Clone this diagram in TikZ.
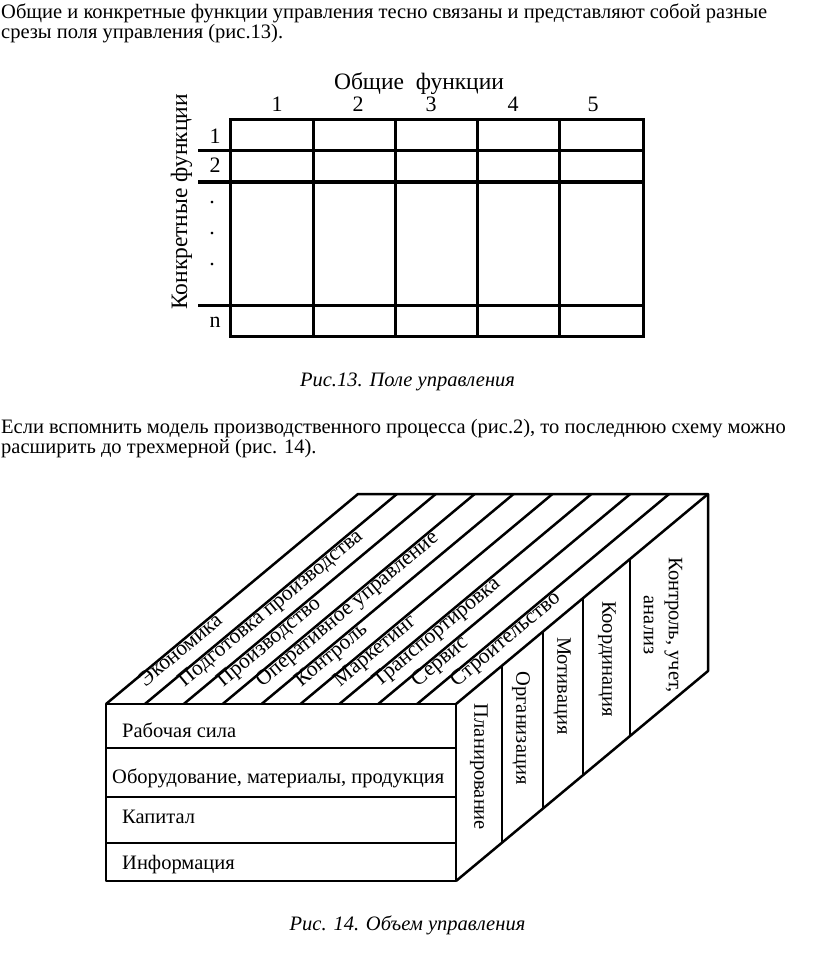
\documentclass[tikz,border=0pt]{standalone}
\usepackage{fontspec}
\setmainfont{Liberation Serif}
\usepackage{tikz}
\usetikzlibrary{calc}
\tikzstyle{bodytext} = [inner sep=0pt, font=\fontsize{20.5}{21}\selectfont]
\tikzstyle{captext} = [inner sep=0pt, font=\fontsize{20.5}{21}\selectfont\itshape]
\tikzstyle{figtext} = [inner sep=0pt, font=\fontsize{22}{22}\selectfont]
\tikzstyle{headtext} = [inner sep=0pt, font=\fontsize{23.5}{24}\selectfont]
\tikzstyle{boxtext} = [inner sep=0pt, font=\fontsize{20.5}{25}\selectfont]
\tikzstyle{striptext} = [inner sep=0pt, font=\fontsize{21.5}{22}\selectfont]
\tikzstyle{fieldline} = [line width=3pt]
\tikzstyle{boxline} = [line width=2.5pt, line join=round]

\begin{document}
\begin{tikzpicture}[x=1pt, y=-1pt]
    \useasboundingbox (0,0) rectangle (816,960);
    % text before the field
    \node [bodytext, anchor=base west] (para1a) at (1,18.5) {Общие и конкретные функции управления тесно связаны и представляют собой разные};
    \node [bodytext, anchor=base west] (para1b) at (1,39) {срезы поля управления (рис.13).};

    % the field of management
    \draw [fieldline] (230,120) rectangle (643,336);
    \foreach \x in {313,395,477,559}
        \draw [fieldline] (\x,120) -- (\x,336);
    \foreach \y in {151,182,305}
        \draw [fieldline] (198,\y) -- (643,\y);
    \node [headtext, anchor=base] (general) at (419,90) {Общие~~функции};
    \foreach \x/\n in {277/1,358/2,431/3,513/4,593/5}
        \node [figtext, anchor=base] (col\n) at (\x,111.5) {\n};
    \node [figtext, anchor=base] (row1) at (215,144) {1};
    \node [figtext, anchor=base] (row2) at (215,173) {2};
    \foreach \y [count=\i] in {203,234,265}
        \node [figtext, anchor=base] (dot\i) at (212,\y) {.};
    \node [figtext, anchor=base] (rown) at (215,327) {n};
    \node [headtext, anchor=base, rotate=90] (specific) at (187,202) {Конкретные функции};
    \node [captext, anchor=base] (cap13) at (407.5,386) {Рис.13. Поле управления};

    % text before the volume
    \node [bodytext, anchor=base west] (para2a) at (1,433.3) {Если вспомнить модель производственного процесса (рис.2), то последнюю схему можно};
    \node [bodytext, anchor=base west] (para2b) at (1,453.3) {расширить до трехмерной (рис. 14).};

    % the volume of management
    \draw [boxline] (106,704) rectangle (456,881);
    \draw [boxline] (106,704) -- ++(252,-210) -- ++(350,0) -- ++(0,177) -- (456,881);
    \draw [boxline] (456,704) -- ++(252,-210);
    \foreach \y in {748,797,843}
        \draw [boxline] (106,\y) -- (456,\y);
    \foreach \k in {1,...,8}
        \draw [boxline] ({106+38.89*\k},704) -- ++(252,-210);
    \foreach \x in {502,543,583,630}
        \draw [boxline] (\x,{704-(\x-456)*0.8333}) -- ++(0,177);

    % labels along the strips of the top face
    \foreach \t [count=\k from 0] in {Экономика, Подготовка производства, Производство, Оперативное управление, Контроль, Маркетинг, Транспортировка, Сервис, Строительство}
        \path ({125.4+38.89*\k},704) -- ++(252,-210)
            node [striptext, sloped, anchor=base west, pos=0.08] (top\k) {\t};

    \node [boxtext, rotate=-90] (plan) at (479,767) {Планирование};
    \node [boxtext, rotate=-90] (org) at (521,728) {Организация};
    \node [boxtext, rotate=-90] (motiv) at (562,686) {Мотивация};
    \node [boxtext, rotate=-90] (coord) at (607,659) {Координация};
    \node [boxtext, rotate=-90, align=center] (ctrl) at (663,625) {Контроль, учет,\\анализ};

    \node [boxtext, anchor=base west] (labor) at (122,737) {Рабочая сила};
    \node [boxtext, anchor=base west] (equip) at (112,783) {Оборудование, материалы, продукция};
    \node [boxtext, anchor=base west] (capital) at (122,823) {Капитал};
    \node [boxtext, anchor=base west] (info) at (122,869) {Информация};
    \node [captext, anchor=base] (cap14) at (407.5,930) {Рис. 14. Объем управления};
\end{tikzpicture}
\end{document}
